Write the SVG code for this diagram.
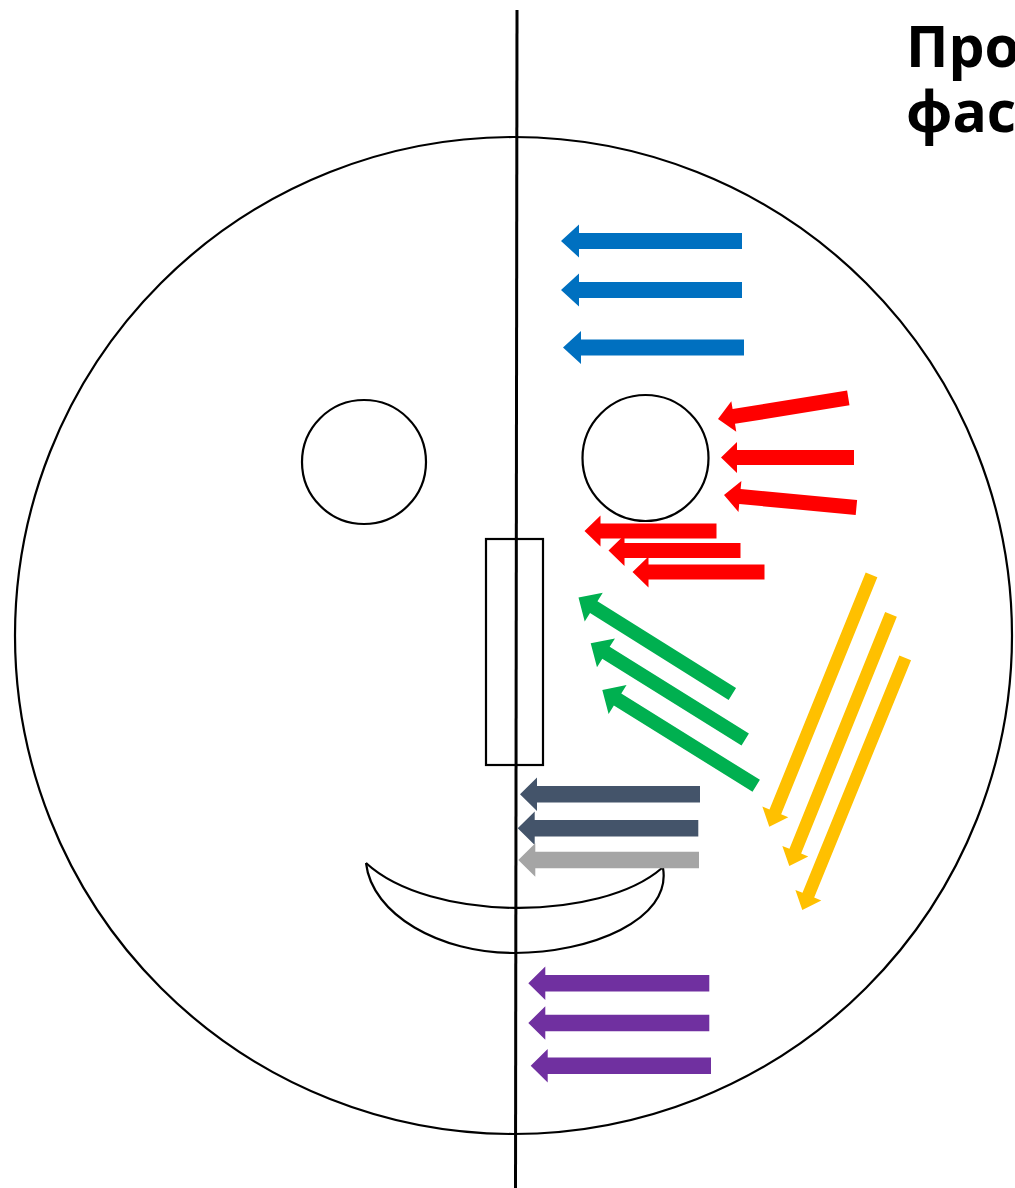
<svg xmlns="http://www.w3.org/2000/svg" width="1015" height="1188" viewBox="0 0 1015 1188">
<style>
.ln{fill:none;stroke:#000;stroke-width:2.2}
.title{font-family:"Open Sans","Liberation Sans",sans-serif;font-weight:bold;font-size:57px;fill:#000}
.blue{fill:#0070C0}.red{fill:#FF0000}.green{fill:#00B050}.yellow{fill:#FFC000}.slate{fill:#44546A}.gray{fill:#A5A5A5}.purple{fill:#7030A0}
</style>
<rect width="1015" height="1188" fill="#fff"/>
<g id="title">
<text class="title" x="906" y="67">Про</text>
<text class="title" x="906" y="132">фас</text>
</g>
<g id="face">
<circle class="ln" cx="513.5" cy="635.5" r="498.5"/>
</g>
<g id="eye-left"><circle class="ln" cx="364" cy="462" r="62"/></g>
<g id="eye-right"><circle class="ln" cx="645.5" cy="458" r="63"/></g>
<g id="nose"><rect class="ln" x="486" y="539" width="57" height="226"/></g>
<g id="mouth">
<path class="ln" d="M366,863 C430,922 600,922 662,868"/>
<path class="ln" d="M366,863 C372,915 440,953 514,953 C590,953 672,920 663,868"/>
</g>
<g id="midline"><line x1="517" y1="10" x2="515.5" y2="1188" stroke="#000" stroke-width="3"/></g>
<g id="connectors">
<g class="blue">
<path transform="translate(561,241)" d="M0,0 L18,-16.5 L18,-8 L181,-8 L181,8 L18,8 L18,16.5 Z"/>
<path transform="translate(561,290)" d="M0,0 L18,-16.5 L18,-8 L181,-8 L181,8 L18,8 L18,16.5 Z"/>
<path transform="translate(563,347.5)" d="M0,0 L18,-16.5 L18,-8 L181,-8 L181,8 L18,8 L18,16.5 Z"/>
</g>
<g class="red">
<path transform="translate(718,419) rotate(-9.2)" d="M0,0 L16,-15.5 L16,-7.5 L132,-7.5 L132,7.5 L16,7.5 L16,15.5 Z"/>
<path transform="translate(721,457.5)" d="M0,0 L16,-15.5 L16,-7.5 L133,-7.5 L133,7.5 L16,7.5 L16,15.5 Z"/>
<path transform="translate(724,495) rotate(5.4)" d="M0,0 L16,-15.5 L16,-7.5 L133,-7.5 L133,7.5 L16,7.5 L16,15.5 Z"/>
<path transform="translate(584.5,531)" d="M0,0 L16,-15.5 L16,-7.5 L132,-7.5 L132,7.5 L16,7.5 L16,15.5 Z"/>
<path transform="translate(608.5,550.5)" d="M0,0 L16,-15.5 L16,-7.5 L132,-7.5 L132,7.5 L16,7.5 L16,15.5 Z"/>
<path transform="translate(632.5,572)" d="M0,0 L16,-15.5 L16,-7.5 L132,-7.5 L132,7.5 L16,7.5 L16,15.5 Z"/>
</g>
<g class="green">
<path transform="translate(578.5,597.5) rotate(32.1)" d="M0,0 L18,-17 L18,-7 L181.6,-7 L181.6,7 L18,7 L18,17 Z"/>
<path transform="translate(590.7,643.3) rotate(31.9)" d="M0,0 L18,-17 L18,-7 L182,-7 L182,7 L18,7 L18,17 Z"/>
<path transform="translate(602.3,690) rotate(31.9)" d="M0,0 L18,-17 L18,-7 L181.3,-7 L181.3,7 L18,7 L18,17 Z"/>
</g>
<g class="yellow">
<path transform="translate(769.3,826.7) rotate(-67.9)" d="M0,0 L16,-14 L16,-6.3 L271.7,-6.3 L271.7,6.3 L16,6.3 L16,14 Z"/>
<path transform="translate(789.3,866) rotate(-68)" d="M0,0 L16,-14 L16,-6.3 L271.5,-6.3 L271.5,6.3 L16,6.3 L16,14 Z"/>
<path transform="translate(802.3,910) rotate(-67.8)" d="M0,0 L16,-14 L16,-6.3 L272.4,-6.3 L272.4,6.3 L16,6.3 L16,14 Z"/>
</g>
<path class="slate" transform="translate(520,794.3)" d="M0,0 L17,-16.7 L17,-8.3 L180,-8.3 L180,8.3 L17,8.3 L17,16.7 Z"/>
<path class="slate" transform="translate(517.7,828.3)" d="M0,0 L17,-16.7 L17,-8.3 L180.6,-8.3 L180.6,8.3 L17,8.3 L17,16.7 Z"/>
<path class="gray" transform="translate(518.3,860)" d="M0,0 L17,-16.7 L17,-8.3 L180.7,-8.3 L180.7,8.3 L17,8.3 L17,16.7 Z"/>
<g class="purple">
<path transform="translate(528.3,983.3)" d="M0,0 L17,-16.7 L17,-8.3 L181,-8.3 L181,8.3 L17,8.3 L17,16.7 Z"/>
<path transform="translate(528.3,1023)" d="M0,0 L17,-16.7 L17,-8.3 L181,-8.3 L181,8.3 L17,8.3 L17,16.7 Z"/>
<path transform="translate(530.7,1065.7)" d="M0,0 L17,-16.7 L17,-8.3 L180.3,-8.3 L180.3,8.3 L17,8.3 L17,16.7 Z"/>
</g>
</g>
</svg>
